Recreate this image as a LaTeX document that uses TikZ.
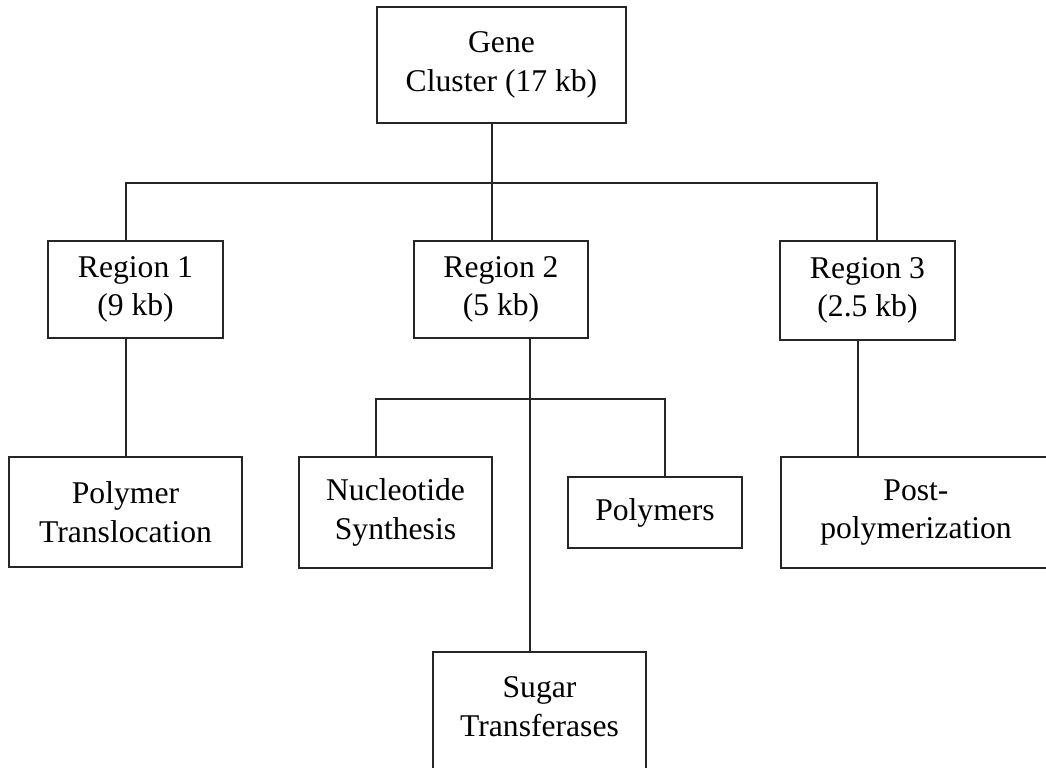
\documentclass[tikz,border=0pt]{standalone}
\usepackage{fontspec}
\setmainfont{Liberation Serif}
\usepackage{tikz}
\usetikzlibrary{positioning}

\begin{document}
\begin{tikzpicture}[
    box/.style={rectangle, draw=black!85, line width=1.1pt, inner sep=0pt, align=center, font=\fontsize{18}{22}\selectfont},
    link/.style={draw=black!85, line width=1.1pt},
]
    \useasboundingbox (0,0) rectangle (20.92,-15.36);
    \clip (0,0) rectangle (20.92,-15.36);

    % Top
    \node[box, minimum width=4.98cm, minimum height=2.32cm] (gene) at (10.03,-1.3) {Gene\\Cluster (17 kb)};

    % Regions
    \node[box, minimum width=3.5cm, minimum height=1.94cm] (reg1) at (2.71,-5.79) {Region 1\\(9 kb)};
    \node[box, minimum width=3.48cm, minimum height=1.94cm] (reg2) at (10.02,-5.79) {Region 2\\(5 kb)};
    \node[box, minimum width=3.5cm, minimum height=1.98cm] (reg3) at (17.35,-5.81) {Region 3\\(2.5 kb)};

    % Functions
    \node[box, minimum width=4.66cm, minimum height=2.2cm] (ptrans) at (2.51,-10.24) {Polymer\\Translocation};
    \node[box, minimum width=3.86cm, minimum height=2.22cm] (nucl) at (7.91,-10.25) {Nucleotide\\Synthesis};
    \node[box, minimum width=3.48cm, minimum height=1.42cm] (polym) at (13.1,-10.25) {Polymers};
    \node[box, minimum width=5.4cm, minimum height=2.22cm] (postp) at (18.32,-10.25) {Post-\\polymerization};
    \node[box, minimum width=4.26cm, minimum height=2.76cm,
          label={[box, draw=none, anchor=north, yshift=-0.5cm]north:{Sugar\\Transferases}}] (sugar) at (10.79,-14.42) {};

    % Junctions
    \coordinate (j1) at (9.84,-3.66);
    \coordinate (j2) at (10.6,-7.98);
    \coordinate (c1) at (2.52,0);
    \coordinate (c3) at (17.54,0);
    \coordinate (c3b) at (17.16,0);
    \coordinate (c4) at (7.52,0);
    \coordinate (c5) at (13.3,0);

    % Lines
    \draw[link] (gene.south -| j1) -- (j1);
    \draw[link] (reg1.north -| c1) |- (j1) -| (reg3.north -| c3);
    \draw[link] (j1) -- (reg2.north -| j1);
    \draw[link] (reg1.south -| c1) -- (ptrans.north -| c1);
    \draw[link] (reg3.south -| c3b) -- (postp.north -| c3b);
    \draw[link] (reg2.south -| j2) -- (sugar.north -| j2);
    \draw[link] (nucl.north -| c4) |- (j2) -| (polym.north -| c5);
\end{tikzpicture}
\end{document}
